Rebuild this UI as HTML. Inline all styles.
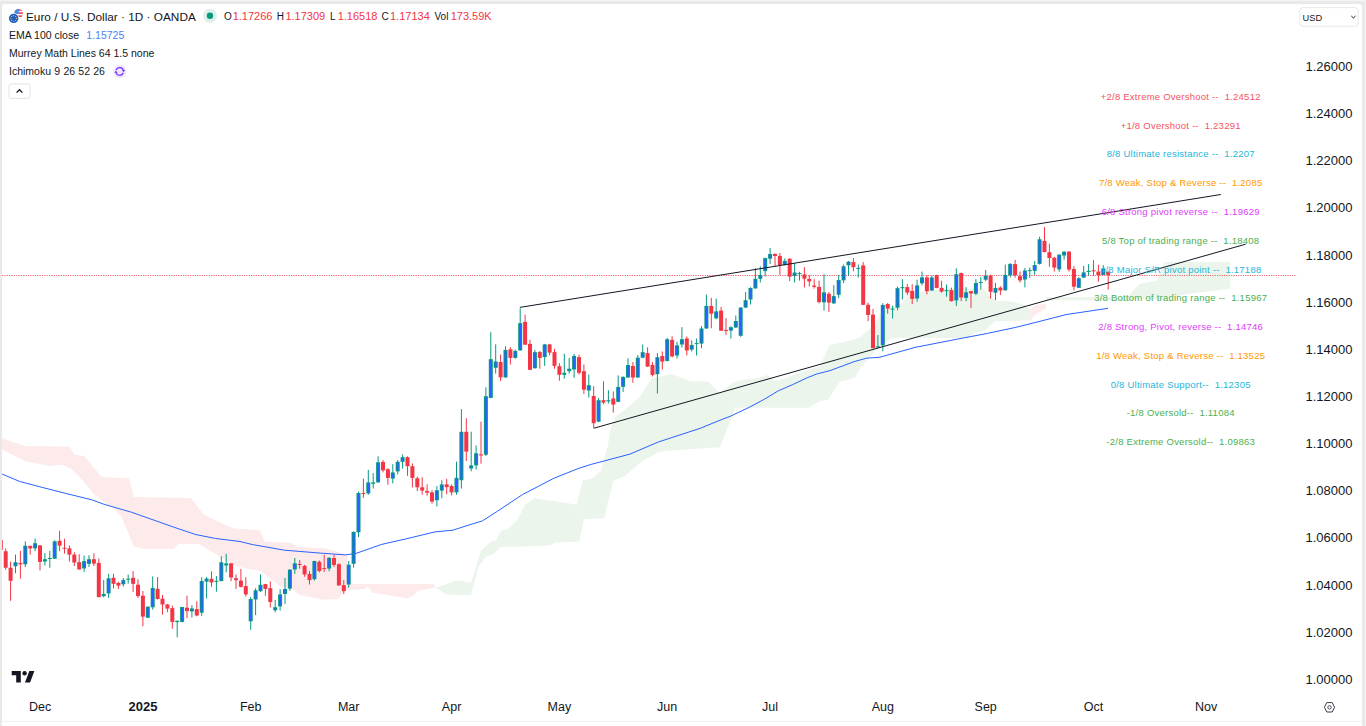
<!DOCTYPE html>
<html><head><meta charset="utf-8"><style>
html,body{margin:0;padding:0;}
body{width:1366px;height:726px;background:#E9E9E9;position:relative;overflow:hidden;font-family:"Liberation Sans",sans-serif;}
#panel{position:absolute;left:2px;top:4px;width:1360px;height:760px;background:#fff;border-radius:3px;}
#t1{position:absolute;left:0;top:0;width:1366px;height:1px;background:#F4F4F4;}
#r1{position:absolute;left:1365px;top:0;width:1px;height:726px;background:#F4F4F4;}
svg{position:absolute;left:0;top:0;}
.mm{font-size:9.5px;letter-spacing:0.24px;}
.ax{font-size:13px;fill:#131722;}
.bold{font-weight:bold;}
.lg{fill:#131722;font-size:10.5px;}
.title{fill:#131722;font-size:11.8px;}
.ohl{fill:#131722;font-size:10px;}
.ohv{font-size:11px;fill:#F23645;}
.mo{font-size:12.5px;fill:#131722;}
.red{fill:#F23645;}
.usd{fill:#131722;font-size:9.3px;}
</style></head><body>
<div id="panel"></div><div id="t1"></div><div id="r1"></div>
<svg width="1366" height="726" viewBox="0 0 1366 726" font-family="Liberation Sans, sans-serif">
<defs><clipPath id="cp"><rect x="2" y="4" width="1295" height="690"/></clipPath></defs>
<rect x="2" y="721" width="1360" height="1" fill="#F1F1F1"/>
<polygon points="2.0,437.4 10.0,441.0 24.8,446.0 69.4,446.8 74.4,454.7 84.3,456.0 101.7,477.0 129.0,478.3 133.9,496.9 191.0,498.0 203.3,514.2 223.0,524.0 234.3,528.4 260.3,530.2 264.8,541.8 291.6,542.7 298.8,547.2 323.9,548.1 347.3,554.4 348.8,584.0 433.7,584.0 435.9,587.8 435.9,587.8 432.3,588.1 417.6,591.0 413.2,596.1 407.4,598.3 372.2,592.5 367.8,586.6 365.0,588.8 348.8,590.3 344.4,590.3 338.6,599.0 324.0,599.8 299.0,594.7 291.7,588.8 280.0,586.6 261.2,571.3 235.6,566.3 215.7,553.9 198.4,544.0 178.5,544.0 173.6,549.0 143.8,549.0 133.9,546.5 121.5,516.7 114.0,509.3 94.2,494.4 84.3,482.0 72.0,469.6 62.0,464.6 49.6,465.9 24.8,461.0 2.0,449.8" fill="#FDEBEC"/>
<polygon points="435.9,587.8 444.6,584.9 453.4,581.3 460.7,580.5 471.0,582.7 481.2,550.5 491.5,541.0 495.9,540.3 501.7,530.0 507.6,529.3 517.8,519.0 525.2,504.4 534.7,498.2 552.6,500.9 576.4,504.4 582.9,480.3 591.2,478.9 600.8,471.3 607.7,446.5 610.4,430.0 615.4,416.2 625.3,409.6 640.2,396.4 651.7,378.2 671.6,373.9 691.4,381.5 707.9,381.5 720.0,393.3 731.6,383.6 737.3,380.7 758.6,377.8 766.3,374.9 775.9,380.7 783.6,378.8 801.0,372.0 820.2,366.3 826.0,352.8 829.9,345.1 839.5,343.1 854.9,339.3 860.0,337.5 871.0,327.6 877.6,318.7 887.6,306.6 901.5,303.7 908.8,293.4 950.0,288.0 983.5,289.0 995.2,300.7 1012.8,301.5 1024.5,305.1 1030.3,309.5 1030.3,309.5 1030.3,320.5 994.4,321.3 985.5,330.3 973.6,333.0 970.2,338.0 892.0,338.0 877.6,348.5 860.0,368.4 854.9,377.8 839.5,381.7 828.0,400.0 820.2,401.0 808.7,407.7 735.4,407.7 727.7,428.0 720.0,447.2 665.0,451.0 658.3,452.6 640.2,462.5 625.6,475.4 613.2,481.0 604.2,518.3 583.7,519.0 579.3,541.7 554.5,542.5 550.1,545.4 520.8,546.6 500.3,546.9 494.4,553.4 485.6,557.1 478.3,567.3 471.0,595.2 446.1,594.4 435.9,587.8" fill="#EBF5EC"/>
<polygon points="1030.3,309.5 1036.0,305.0 1046.0,303.5 1046.0,308.6 1036.0,314.0 1030.3,320.5" fill="#FDEBEC"/>
<polygon points="1046.0,303.5 1046.0,296.9 1128.0,296.9 1139.6,283.7 1157.0,280.7 1164.5,262.0 1230.3,262.0 1230.3,288.8 1186.4,294.0 1160.0,300.5 1142.5,298.3 1128.0,300.5 1046.0,300.5" fill="#EBF5EC"/>
<polyline points="2.0,474.0 19.8,481.5 42.2,487.4 64.5,493.1 91.7,499.8 104.1,504.3 131.4,512.2 173.6,527.1 195.9,534.6 215.7,538.5 240.0,541.5 252.2,544.5 284.5,550.2 320.3,553.1 345.4,554.9 356.1,553.4 381.2,544.5 406.3,538.8 434.9,531.9 452.8,530.2 470.0,524.7 482.4,520.9 497.5,511.2 522.3,494.7 554.0,478.2 578.8,468.3 591.2,464.4 630.0,454.1 658.3,442.0 700.0,428.4 720.0,420.2 730.0,416.4 749.3,407.3 763.8,399.5 778.2,390.9 792.7,384.6 807.1,377.8 816.8,374.0 830.0,370.6 854.9,361.4 866.5,358.2 880.0,357.2 915.0,347.4 960.0,338.6 987.5,333.4 1015.1,327.5 1040.0,321.3 1066.0,314.6 1108.0,308.3" fill="none" stroke="#2962FF" stroke-width="1"/>
<line x1="2" y1="275.5" x2="1297" y2="275.5" stroke="#F2636F" stroke-width="1" stroke-dasharray="1.2 1.15"/>
<g clip-path="url(#cp)"><line x1="0.80" y1="538.0" x2="0.80" y2="551.0" stroke="#F23645" stroke-width="1"/>
<rect x="-1.20" y="540.0" width="4" height="10.0" fill="#F23645"/>
<line x1="5.70" y1="548.4" x2="5.70" y2="569.8" stroke="#F23645" stroke-width="1"/>
<rect x="3.70" y="551.2" width="4" height="16.5" fill="#F23645"/>
<line x1="10.60" y1="561.5" x2="10.60" y2="600.8" stroke="#F23645" stroke-width="1"/>
<rect x="8.60" y="567.7" width="4" height="13.1" fill="#F23645"/>
<line x1="15.50" y1="554.6" x2="15.50" y2="573.2" stroke="#089981" stroke-width="1"/>
<rect x="13.50" y="562.2" width="4" height="4.1" fill="#089981"/>
<rect x="14.50" y="563.2" width="2" height="2.1" fill="#2962FF"/>
<line x1="20.40" y1="550.9" x2="20.40" y2="578.7" stroke="#F23645" stroke-width="1"/>
<rect x="18.40" y="562.9" width="4" height="1.4" fill="#F23645"/>
<line x1="25.30" y1="541.3" x2="25.30" y2="567.0" stroke="#089981" stroke-width="1"/>
<rect x="23.30" y="545.7" width="4" height="18.6" fill="#089981"/>
<rect x="24.30" y="546.7" width="2" height="16.6" fill="#2962FF"/>
<line x1="30.20" y1="545.7" x2="30.20" y2="554.6" stroke="#F23645" stroke-width="1"/>
<rect x="28.20" y="545.9" width="4" height="2.5" fill="#F23645"/>
<line x1="35.10" y1="538.5" x2="35.10" y2="551.2" stroke="#089981" stroke-width="1"/>
<rect x="33.10" y="543.2" width="4" height="5.2" fill="#089981"/>
<rect x="34.10" y="544.2" width="2" height="3.2" fill="#2962FF"/>
<line x1="40.00" y1="545.0" x2="40.00" y2="570.4" stroke="#F23645" stroke-width="1"/>
<rect x="38.00" y="545.4" width="4" height="16.5" fill="#F23645"/>
<line x1="44.90" y1="553.2" x2="44.90" y2="565.6" stroke="#089981" stroke-width="1"/>
<rect x="42.90" y="559.2" width="4" height="2.3" fill="#089981"/>
<rect x="43.90" y="560.2" width="2" height="0.3" fill="#2962FF"/>
<line x1="49.80" y1="550.9" x2="49.80" y2="567.7" stroke="#089981" stroke-width="1"/>
<rect x="47.80" y="558.0" width="4" height="1.0" fill="#089981"/>
<line x1="54.70" y1="540.4" x2="54.70" y2="559.0" stroke="#089981" stroke-width="1"/>
<rect x="52.70" y="541.3" width="4" height="17.4" fill="#089981"/>
<rect x="53.70" y="542.3" width="2" height="15.4" fill="#2962FF"/>
<line x1="59.60" y1="530.8" x2="59.60" y2="551.2" stroke="#F23645" stroke-width="1"/>
<rect x="57.60" y="540.8" width="4" height="4.9" fill="#F23645"/>
<line x1="64.50" y1="538.8" x2="64.50" y2="553.6" stroke="#F23645" stroke-width="1"/>
<rect x="62.50" y="547.7" width="4" height="1.0" fill="#F23645"/>
<line x1="69.40" y1="545.4" x2="69.40" y2="561.5" stroke="#F23645" stroke-width="1"/>
<rect x="67.40" y="548.4" width="4" height="6.2" fill="#F23645"/>
<line x1="74.30" y1="552.3" x2="74.30" y2="566.0" stroke="#F23645" stroke-width="1"/>
<rect x="72.30" y="554.6" width="4" height="7.9" fill="#F23645"/>
<line x1="79.20" y1="554.2" x2="79.20" y2="569.8" stroke="#F23645" stroke-width="1"/>
<rect x="77.20" y="562.2" width="4" height="7.2" fill="#F23645"/>
<line x1="84.10" y1="555.6" x2="84.10" y2="571.8" stroke="#089981" stroke-width="1"/>
<rect x="82.10" y="561.1" width="4" height="7.3" fill="#089981"/>
<rect x="83.10" y="562.1" width="2" height="5.3" fill="#2962FF"/>
<line x1="89.00" y1="555.3" x2="89.00" y2="567.0" stroke="#089981" stroke-width="1"/>
<rect x="87.00" y="559.2" width="4" height="4.6" fill="#089981"/>
<rect x="88.00" y="560.2" width="2" height="2.6" fill="#2962FF"/>
<line x1="93.90" y1="553.2" x2="93.90" y2="566.0" stroke="#F23645" stroke-width="1"/>
<rect x="91.90" y="559.2" width="4" height="4.4" fill="#F23645"/>
<line x1="98.80" y1="558.5" x2="98.80" y2="597.3" stroke="#F23645" stroke-width="1"/>
<rect x="96.80" y="562.9" width="4" height="34.2" fill="#F23645"/>
<line x1="103.70" y1="580.1" x2="103.70" y2="597.3" stroke="#089981" stroke-width="1"/>
<rect x="101.70" y="593.9" width="4" height="2.3" fill="#089981"/>
<rect x="102.70" y="594.9" width="2" height="0.3" fill="#2962FF"/>
<line x1="108.60" y1="573.9" x2="108.60" y2="598.0" stroke="#089981" stroke-width="1"/>
<rect x="106.60" y="578.3" width="4" height="15.2" fill="#089981"/>
<rect x="107.60" y="579.3" width="2" height="13.2" fill="#2962FF"/>
<line x1="113.50" y1="573.9" x2="113.50" y2="588.4" stroke="#F23645" stroke-width="1"/>
<rect x="111.50" y="577.8" width="4" height="6.0" fill="#F23645"/>
<line x1="118.40" y1="581.9" x2="118.40" y2="588.8" stroke="#F23645" stroke-width="1"/>
<rect x="116.40" y="582.9" width="4" height="2.7" fill="#F23645"/>
<line x1="123.30" y1="578.0" x2="123.30" y2="586.6" stroke="#089981" stroke-width="1"/>
<rect x="121.30" y="580.1" width="4" height="4.2" fill="#089981"/>
<rect x="122.30" y="581.1" width="2" height="2.2" fill="#2962FF"/>
<line x1="128.20" y1="574.6" x2="128.20" y2="583.6" stroke="#089981" stroke-width="1"/>
<rect x="126.20" y="578.7" width="4" height="1.0" fill="#089981"/>
<line x1="133.10" y1="571.2" x2="133.10" y2="591.8" stroke="#F23645" stroke-width="1"/>
<rect x="131.10" y="577.8" width="4" height="6.0" fill="#F23645"/>
<line x1="138.00" y1="579.2" x2="138.00" y2="598.0" stroke="#F23645" stroke-width="1"/>
<rect x="136.00" y="584.7" width="4" height="11.3" fill="#F23645"/>
<line x1="142.90" y1="591.1" x2="142.90" y2="626.3" stroke="#F23645" stroke-width="1"/>
<rect x="140.90" y="595.7" width="4" height="20.9" fill="#F23645"/>
<line x1="147.80" y1="606.3" x2="147.80" y2="618.0" stroke="#089981" stroke-width="1"/>
<rect x="145.80" y="606.7" width="4" height="11.0" fill="#089981"/>
<rect x="146.80" y="607.7" width="2" height="9.0" fill="#2962FF"/>
<line x1="152.70" y1="576.4" x2="152.70" y2="609.7" stroke="#089981" stroke-width="1"/>
<rect x="150.70" y="588.0" width="4" height="19.3" fill="#089981"/>
<rect x="151.70" y="589.0" width="2" height="17.3" fill="#2962FF"/>
<line x1="157.60" y1="577.0" x2="157.60" y2="599.5" stroke="#F23645" stroke-width="1"/>
<rect x="155.60" y="588.8" width="4" height="10.2" fill="#F23645"/>
<line x1="162.50" y1="594.9" x2="162.50" y2="614.6" stroke="#F23645" stroke-width="1"/>
<rect x="160.50" y="598.7" width="4" height="5.8" fill="#F23645"/>
<line x1="167.40" y1="604.0" x2="167.40" y2="612.2" stroke="#F23645" stroke-width="1"/>
<rect x="165.40" y="604.5" width="4" height="4.1" fill="#F23645"/>
<line x1="172.30" y1="605.6" x2="172.30" y2="628.7" stroke="#F23645" stroke-width="1"/>
<rect x="170.30" y="608.1" width="4" height="13.8" fill="#F23645"/>
<line x1="177.20" y1="620.5" x2="177.20" y2="637.3" stroke="#089981" stroke-width="1"/>
<rect x="175.20" y="620.8" width="4" height="1.3" fill="#089981"/>
<line x1="182.10" y1="607.0" x2="182.10" y2="622.5" stroke="#089981" stroke-width="1"/>
<rect x="180.10" y="607.0" width="4" height="14.9" fill="#089981"/>
<rect x="181.10" y="608.0" width="2" height="12.9" fill="#2962FF"/>
<line x1="187.00" y1="595.7" x2="187.00" y2="618.0" stroke="#F23645" stroke-width="1"/>
<rect x="185.00" y="607.7" width="4" height="3.4" fill="#F23645"/>
<line x1="191.90" y1="605.3" x2="191.90" y2="617.5" stroke="#089981" stroke-width="1"/>
<rect x="189.90" y="608.4" width="4" height="3.0" fill="#089981"/>
<rect x="190.90" y="609.4" width="2" height="1.0" fill="#2962FF"/>
<line x1="196.80" y1="601.3" x2="196.80" y2="616.4" stroke="#F23645" stroke-width="1"/>
<rect x="194.80" y="609.1" width="4" height="6.4" fill="#F23645"/>
<line x1="201.70" y1="577.2" x2="201.70" y2="615.8" stroke="#089981" stroke-width="1"/>
<rect x="199.70" y="581.0" width="4" height="31.7" fill="#089981"/>
<rect x="200.70" y="582.0" width="2" height="29.7" fill="#2962FF"/>
<line x1="206.60" y1="576.9" x2="206.60" y2="598.5" stroke="#089981" stroke-width="1"/>
<rect x="204.60" y="578.6" width="4" height="3.0" fill="#089981"/>
<rect x="205.60" y="579.6" width="2" height="1.0" fill="#2962FF"/>
<line x1="211.50" y1="571.4" x2="211.50" y2="586.8" stroke="#F23645" stroke-width="1"/>
<rect x="209.50" y="578.8" width="4" height="3.6" fill="#F23645"/>
<line x1="216.40" y1="576.1" x2="216.40" y2="591.7" stroke="#089981" stroke-width="1"/>
<rect x="214.40" y="580.8" width="4" height="1.0" fill="#089981"/>
<line x1="221.30" y1="556.3" x2="221.30" y2="581.5" stroke="#089981" stroke-width="1"/>
<rect x="219.30" y="562.3" width="4" height="18.7" fill="#089981"/>
<rect x="220.30" y="563.3" width="2" height="16.7" fill="#2962FF"/>
<line x1="226.20" y1="553.8" x2="226.20" y2="572.4" stroke="#089981" stroke-width="1"/>
<rect x="224.20" y="563.4" width="4" height="2.1" fill="#089981"/>
<rect x="225.20" y="564.4" width="2" height="0.1" fill="#2962FF"/>
<line x1="231.10" y1="563.1" x2="231.10" y2="581.3" stroke="#F23645" stroke-width="1"/>
<rect x="229.10" y="563.3" width="4" height="14.2" fill="#F23645"/>
<line x1="236.00" y1="574.4" x2="236.00" y2="588.9" stroke="#F23645" stroke-width="1"/>
<rect x="234.00" y="578.3" width="4" height="1.9" fill="#F23645"/>
<line x1="240.90" y1="568.9" x2="240.90" y2="587.5" stroke="#F23645" stroke-width="1"/>
<rect x="238.90" y="580.6" width="4" height="6.2" fill="#F23645"/>
<line x1="245.80" y1="577.2" x2="245.80" y2="596.5" stroke="#F23645" stroke-width="1"/>
<rect x="243.80" y="586.1" width="4" height="8.3" fill="#F23645"/>
<line x1="250.70" y1="597.2" x2="250.70" y2="629.8" stroke="#089981" stroke-width="1"/>
<rect x="248.70" y="599.0" width="4" height="22.3" fill="#089981"/>
<rect x="249.70" y="600.0" width="2" height="20.3" fill="#2962FF"/>
<line x1="255.60" y1="588.2" x2="255.60" y2="615.1" stroke="#089981" stroke-width="1"/>
<rect x="253.60" y="590.3" width="4" height="9.2" fill="#089981"/>
<rect x="254.60" y="591.3" width="2" height="7.2" fill="#2962FF"/>
<line x1="260.50" y1="574.4" x2="260.50" y2="591.8" stroke="#089981" stroke-width="1"/>
<rect x="258.50" y="584.8" width="4" height="6.4" fill="#089981"/>
<rect x="259.50" y="585.8" width="2" height="4.4" fill="#2962FF"/>
<line x1="265.40" y1="583.8" x2="265.40" y2="595.8" stroke="#F23645" stroke-width="1"/>
<rect x="263.40" y="584.1" width="4" height="4.8" fill="#F23645"/>
<line x1="270.30" y1="581.3" x2="270.30" y2="607.5" stroke="#F23645" stroke-width="1"/>
<rect x="268.30" y="588.2" width="4" height="13.8" fill="#F23645"/>
<line x1="275.20" y1="599.9" x2="275.20" y2="612.3" stroke="#089981" stroke-width="1"/>
<rect x="273.20" y="607.2" width="4" height="3.0" fill="#089981"/>
<rect x="274.20" y="608.2" width="2" height="1.0" fill="#2962FF"/>
<line x1="280.10" y1="589.3" x2="280.10" y2="610.5" stroke="#089981" stroke-width="1"/>
<rect x="278.10" y="594.4" width="4" height="12.0" fill="#089981"/>
<rect x="279.10" y="595.4" width="2" height="10.0" fill="#2962FF"/>
<line x1="285.00" y1="577.9" x2="285.00" y2="604.0" stroke="#089981" stroke-width="1"/>
<rect x="283.00" y="588.9" width="4" height="5.1" fill="#089981"/>
<rect x="284.00" y="589.9" width="2" height="3.1" fill="#2962FF"/>
<line x1="289.90" y1="569.0" x2="289.90" y2="590.9" stroke="#089981" stroke-width="1"/>
<rect x="287.90" y="569.7" width="4" height="18.9" fill="#089981"/>
<rect x="288.90" y="570.7" width="2" height="16.9" fill="#2962FF"/>
<line x1="294.80" y1="558.0" x2="294.80" y2="573.9" stroke="#089981" stroke-width="1"/>
<rect x="292.80" y="563.3" width="4" height="6.2" fill="#089981"/>
<rect x="293.80" y="564.3" width="2" height="4.2" fill="#2962FF"/>
<line x1="299.70" y1="560.1" x2="299.70" y2="568.8" stroke="#F23645" stroke-width="1"/>
<rect x="297.70" y="564.0" width="4" height="1.0" fill="#F23645"/>
<line x1="304.60" y1="564.9" x2="304.60" y2="576.8" stroke="#F23645" stroke-width="1"/>
<rect x="302.60" y="565.9" width="4" height="8.5" fill="#F23645"/>
<line x1="309.50" y1="571.0" x2="309.50" y2="584.5" stroke="#F23645" stroke-width="1"/>
<rect x="307.50" y="573.9" width="4" height="6.2" fill="#F23645"/>
<line x1="314.40" y1="560.7" x2="314.40" y2="580.6" stroke="#089981" stroke-width="1"/>
<rect x="312.40" y="561.0" width="4" height="18.2" fill="#089981"/>
<rect x="313.40" y="562.0" width="2" height="16.2" fill="#2962FF"/>
<line x1="319.30" y1="560.4" x2="319.30" y2="572.4" stroke="#F23645" stroke-width="1"/>
<rect x="317.30" y="561.8" width="4" height="9.2" fill="#F23645"/>
<line x1="324.20" y1="554.9" x2="324.20" y2="572.0" stroke="#F23645" stroke-width="1"/>
<rect x="322.20" y="568.1" width="4" height="1.0" fill="#F23645"/>
<line x1="329.10" y1="557.2" x2="329.10" y2="571.3" stroke="#089981" stroke-width="1"/>
<rect x="327.10" y="557.8" width="4" height="10.8" fill="#089981"/>
<rect x="328.10" y="558.8" width="2" height="8.8" fill="#2962FF"/>
<line x1="334.00" y1="554.9" x2="334.00" y2="567.1" stroke="#F23645" stroke-width="1"/>
<rect x="332.00" y="558.0" width="4" height="6.9" fill="#F23645"/>
<line x1="338.90" y1="563.3" x2="338.90" y2="585.8" stroke="#F23645" stroke-width="1"/>
<rect x="336.90" y="564.2" width="4" height="21.2" fill="#F23645"/>
<line x1="343.80" y1="580.1" x2="343.80" y2="594.1" stroke="#F23645" stroke-width="1"/>
<rect x="341.80" y="585.2" width="4" height="6.0" fill="#F23645"/>
<line x1="348.70" y1="561.0" x2="348.70" y2="587.7" stroke="#089981" stroke-width="1"/>
<rect x="346.70" y="564.7" width="4" height="19.8" fill="#089981"/>
<rect x="347.70" y="565.7" width="2" height="17.8" fill="#2962FF"/>
<line x1="353.60" y1="531.4" x2="353.60" y2="567.6" stroke="#089981" stroke-width="1"/>
<rect x="351.60" y="531.9" width="4" height="31.9" fill="#089981"/>
<rect x="352.60" y="532.9" width="2" height="29.9" fill="#2962FF"/>
<line x1="358.50" y1="491.7" x2="358.50" y2="537.1" stroke="#089981" stroke-width="1"/>
<rect x="356.50" y="493.0" width="4" height="39.3" fill="#089981"/>
<rect x="357.50" y="494.0" width="2" height="37.3" fill="#2962FF"/>
<line x1="363.40" y1="478.6" x2="363.40" y2="497.9" stroke="#F23645" stroke-width="1"/>
<rect x="361.40" y="493.0" width="4" height="1.0" fill="#F23645"/>
<line x1="368.30" y1="470.0" x2="368.30" y2="494.8" stroke="#089981" stroke-width="1"/>
<rect x="366.30" y="482.4" width="4" height="11.0" fill="#089981"/>
<rect x="367.30" y="483.4" width="2" height="9.0" fill="#2962FF"/>
<line x1="373.20" y1="473.1" x2="373.20" y2="488.5" stroke="#089981" stroke-width="1"/>
<rect x="371.20" y="482.4" width="4" height="1.4" fill="#089981"/>
<line x1="378.10" y1="456.3" x2="378.10" y2="482.8" stroke="#089981" stroke-width="1"/>
<rect x="376.10" y="462.3" width="4" height="20.1" fill="#089981"/>
<rect x="377.10" y="463.3" width="2" height="18.1" fill="#2962FF"/>
<line x1="383.00" y1="460.0" x2="383.00" y2="472.4" stroke="#F23645" stroke-width="1"/>
<rect x="381.00" y="462.0" width="4" height="8.3" fill="#F23645"/>
<line x1="387.90" y1="468.2" x2="387.90" y2="484.8" stroke="#F23645" stroke-width="1"/>
<rect x="385.90" y="469.2" width="4" height="8.7" fill="#F23645"/>
<line x1="392.80" y1="464.1" x2="392.80" y2="483.4" stroke="#089981" stroke-width="1"/>
<rect x="390.80" y="472.4" width="4" height="6.2" fill="#089981"/>
<rect x="391.80" y="473.4" width="2" height="4.2" fill="#2962FF"/>
<line x1="397.70" y1="460.0" x2="397.70" y2="474.4" stroke="#089981" stroke-width="1"/>
<rect x="395.70" y="461.8" width="4" height="9.6" fill="#089981"/>
<rect x="396.70" y="462.8" width="2" height="7.6" fill="#2962FF"/>
<line x1="402.60" y1="454.5" x2="402.60" y2="468.6" stroke="#089981" stroke-width="1"/>
<rect x="400.60" y="457.2" width="4" height="4.6" fill="#089981"/>
<rect x="401.60" y="458.2" width="2" height="2.6" fill="#2962FF"/>
<line x1="407.50" y1="456.3" x2="407.50" y2="475.8" stroke="#F23645" stroke-width="1"/>
<rect x="405.50" y="457.2" width="4" height="9.0" fill="#F23645"/>
<line x1="412.40" y1="463.4" x2="412.40" y2="487.5" stroke="#F23645" stroke-width="1"/>
<rect x="410.40" y="466.2" width="4" height="11.7" fill="#F23645"/>
<line x1="417.30" y1="476.5" x2="417.30" y2="491.0" stroke="#F23645" stroke-width="1"/>
<rect x="415.30" y="478.3" width="4" height="9.0" fill="#F23645"/>
<line x1="422.20" y1="477.2" x2="422.20" y2="494.7" stroke="#F23645" stroke-width="1"/>
<rect x="420.20" y="487.3" width="4" height="3.3" fill="#F23645"/>
<line x1="427.10" y1="484.4" x2="427.10" y2="495.7" stroke="#F23645" stroke-width="1"/>
<rect x="425.10" y="491.0" width="4" height="1.6" fill="#F23645"/>
<line x1="432.00" y1="490.2" x2="432.00" y2="503.7" stroke="#F23645" stroke-width="1"/>
<rect x="430.00" y="492.4" width="4" height="9.2" fill="#F23645"/>
<line x1="436.90" y1="486.0" x2="436.90" y2="506.4" stroke="#089981" stroke-width="1"/>
<rect x="434.90" y="490.2" width="4" height="10.0" fill="#089981"/>
<rect x="435.90" y="491.2" width="2" height="8.0" fill="#2962FF"/>
<line x1="441.80" y1="480.2" x2="441.80" y2="498.2" stroke="#089981" stroke-width="1"/>
<rect x="439.80" y="484.4" width="4" height="6.2" fill="#089981"/>
<rect x="440.80" y="485.4" width="2" height="4.2" fill="#2962FF"/>
<line x1="446.70" y1="478.9" x2="446.70" y2="494.3" stroke="#F23645" stroke-width="1"/>
<rect x="444.70" y="484.4" width="4" height="2.7" fill="#F23645"/>
<line x1="451.60" y1="484.4" x2="451.60" y2="495.4" stroke="#F23645" stroke-width="1"/>
<rect x="449.60" y="486.0" width="4" height="6.4" fill="#F23645"/>
<line x1="456.50" y1="461.7" x2="456.50" y2="494.7" stroke="#089981" stroke-width="1"/>
<rect x="454.50" y="477.8" width="4" height="14.6" fill="#089981"/>
<rect x="455.50" y="478.8" width="2" height="12.6" fill="#2962FF"/>
<line x1="461.40" y1="409.1" x2="461.40" y2="488.5" stroke="#089981" stroke-width="1"/>
<rect x="459.40" y="431.8" width="4" height="48.4" fill="#089981"/>
<rect x="460.40" y="432.8" width="2" height="46.4" fill="#2962FF"/>
<line x1="466.30" y1="418.2" x2="466.30" y2="461.0" stroke="#F23645" stroke-width="1"/>
<rect x="464.30" y="431.8" width="4" height="19.8" fill="#F23645"/>
<line x1="471.20" y1="431.7" x2="471.20" y2="471.3" stroke="#089981" stroke-width="1"/>
<rect x="469.20" y="465.4" width="4" height="3.1" fill="#089981"/>
<rect x="470.20" y="466.4" width="2" height="1.1" fill="#2962FF"/>
<line x1="476.10" y1="445.5" x2="476.10" y2="469.5" stroke="#089981" stroke-width="1"/>
<rect x="474.10" y="453.3" width="4" height="12.1" fill="#089981"/>
<rect x="475.10" y="454.3" width="2" height="10.1" fill="#2962FF"/>
<line x1="481.00" y1="421.7" x2="481.00" y2="463.7" stroke="#F23645" stroke-width="1"/>
<rect x="479.00" y="454.3" width="4" height="1.1" fill="#F23645"/>
<line x1="485.90" y1="387.2" x2="485.90" y2="456.1" stroke="#089981" stroke-width="1"/>
<rect x="483.90" y="396.2" width="4" height="58.5" fill="#089981"/>
<rect x="484.90" y="397.2" width="2" height="56.5" fill="#2962FF"/>
<line x1="490.80" y1="332.2" x2="490.80" y2="398.2" stroke="#089981" stroke-width="1"/>
<rect x="488.80" y="359.2" width="4" height="38.7" fill="#089981"/>
<rect x="489.80" y="360.2" width="2" height="36.7" fill="#2962FF"/>
<line x1="495.70" y1="344.3" x2="495.70" y2="373.6" stroke="#089981" stroke-width="1"/>
<rect x="493.70" y="361.5" width="4" height="6.3" fill="#089981"/>
<rect x="494.70" y="362.5" width="2" height="4.3" fill="#2962FF"/>
<line x1="500.60" y1="354.5" x2="500.60" y2="381.0" stroke="#F23645" stroke-width="1"/>
<rect x="498.60" y="362.0" width="4" height="15.4" fill="#F23645"/>
<line x1="505.50" y1="346.3" x2="505.50" y2="377.8" stroke="#089981" stroke-width="1"/>
<rect x="503.50" y="349.9" width="4" height="27.5" fill="#089981"/>
<rect x="504.50" y="350.9" width="2" height="25.5" fill="#2962FF"/>
<line x1="510.40" y1="347.1" x2="510.40" y2="364.5" stroke="#F23645" stroke-width="1"/>
<rect x="508.40" y="349.3" width="4" height="8.6" fill="#F23645"/>
<line x1="515.30" y1="349.6" x2="515.30" y2="358.7" stroke="#089981" stroke-width="1"/>
<rect x="513.30" y="350.9" width="4" height="7.0" fill="#089981"/>
<rect x="514.30" y="351.9" width="2" height="5.0" fill="#2962FF"/>
<line x1="520.20" y1="308.3" x2="520.20" y2="350.8" stroke="#089981" stroke-width="1"/>
<rect x="518.20" y="323.1" width="4" height="27.3" fill="#089981"/>
<rect x="519.20" y="324.1" width="2" height="25.3" fill="#2962FF"/>
<line x1="525.10" y1="314.6" x2="525.10" y2="345.0" stroke="#F23645" stroke-width="1"/>
<rect x="523.10" y="321.9" width="4" height="22.8" fill="#F23645"/>
<line x1="530.00" y1="339.8" x2="530.00" y2="370.2" stroke="#F23645" stroke-width="1"/>
<rect x="528.00" y="343.9" width="4" height="25.9" fill="#F23645"/>
<line x1="534.90" y1="350.0" x2="534.90" y2="368.7" stroke="#089981" stroke-width="1"/>
<rect x="532.90" y="352.1" width="4" height="16.1" fill="#089981"/>
<rect x="533.90" y="353.1" width="2" height="14.1" fill="#2962FF"/>
<line x1="539.80" y1="351.0" x2="539.80" y2="368.7" stroke="#F23645" stroke-width="1"/>
<rect x="537.80" y="352.1" width="4" height="5.8" fill="#F23645"/>
<line x1="544.70" y1="343.9" x2="544.70" y2="365.9" stroke="#089981" stroke-width="1"/>
<rect x="542.70" y="344.4" width="4" height="12.7" fill="#089981"/>
<rect x="543.70" y="345.4" width="2" height="10.7" fill="#2962FF"/>
<line x1="549.60" y1="343.9" x2="549.60" y2="355.5" stroke="#F23645" stroke-width="1"/>
<rect x="547.60" y="344.4" width="4" height="8.2" fill="#F23645"/>
<line x1="554.50" y1="348.8" x2="554.50" y2="368.7" stroke="#F23645" stroke-width="1"/>
<rect x="552.50" y="352.1" width="4" height="13.8" fill="#F23645"/>
<line x1="559.40" y1="363.2" x2="559.40" y2="380.7" stroke="#F23645" stroke-width="1"/>
<rect x="557.40" y="366.2" width="4" height="8.6" fill="#F23645"/>
<line x1="564.30" y1="353.8" x2="564.30" y2="378.6" stroke="#089981" stroke-width="1"/>
<rect x="562.30" y="372.8" width="4" height="2.0" fill="#089981"/>
<line x1="569.20" y1="357.9" x2="569.20" y2="373.6" stroke="#089981" stroke-width="1"/>
<rect x="567.20" y="368.7" width="4" height="2.5" fill="#089981"/>
<rect x="568.20" y="369.7" width="2" height="0.5" fill="#2962FF"/>
<line x1="574.10" y1="353.8" x2="574.10" y2="377.8" stroke="#089981" stroke-width="1"/>
<rect x="572.10" y="356.0" width="4" height="13.5" fill="#089981"/>
<rect x="573.10" y="357.0" width="2" height="11.5" fill="#2962FF"/>
<line x1="579.00" y1="354.6" x2="579.00" y2="374.8" stroke="#F23645" stroke-width="1"/>
<rect x="577.00" y="357.1" width="4" height="15.7" fill="#F23645"/>
<line x1="583.90" y1="364.5" x2="583.90" y2="394.0" stroke="#F23645" stroke-width="1"/>
<rect x="581.90" y="371.2" width="4" height="18.5" fill="#F23645"/>
<line x1="588.80" y1="374.5" x2="588.80" y2="397.6" stroke="#089981" stroke-width="1"/>
<rect x="586.80" y="385.2" width="4" height="5.3" fill="#089981"/>
<rect x="587.80" y="386.2" width="2" height="3.3" fill="#2962FF"/>
<line x1="593.70" y1="386.1" x2="593.70" y2="428.3" stroke="#F23645" stroke-width="1"/>
<rect x="591.70" y="396.0" width="4" height="27.2" fill="#F23645"/>
<line x1="598.60" y1="397.7" x2="598.60" y2="422.2" stroke="#089981" stroke-width="1"/>
<rect x="596.60" y="400.2" width="4" height="21.5" fill="#089981"/>
<rect x="597.60" y="401.2" width="2" height="19.5" fill="#2962FF"/>
<line x1="603.50" y1="381.2" x2="603.50" y2="404.3" stroke="#F23645" stroke-width="1"/>
<rect x="601.50" y="400.2" width="4" height="2.4" fill="#F23645"/>
<line x1="608.40" y1="390.2" x2="608.40" y2="403.5" stroke="#089981" stroke-width="1"/>
<rect x="606.40" y="400.2" width="4" height="1.1" fill="#089981"/>
<line x1="613.30" y1="391.4" x2="613.30" y2="412.6" stroke="#F23645" stroke-width="1"/>
<rect x="611.30" y="398.5" width="4" height="6.1" fill="#F23645"/>
<line x1="618.20" y1="375.4" x2="618.20" y2="402.2" stroke="#089981" stroke-width="1"/>
<rect x="616.20" y="386.9" width="4" height="14.9" fill="#089981"/>
<rect x="617.20" y="387.9" width="2" height="12.9" fill="#2962FF"/>
<line x1="623.10" y1="376.2" x2="623.10" y2="391.9" stroke="#089981" stroke-width="1"/>
<rect x="621.10" y="377.0" width="4" height="9.9" fill="#089981"/>
<rect x="622.10" y="378.0" width="2" height="7.9" fill="#2962FF"/>
<line x1="628.00" y1="358.3" x2="628.00" y2="377.9" stroke="#089981" stroke-width="1"/>
<rect x="626.00" y="365.0" width="4" height="12.5" fill="#089981"/>
<rect x="627.00" y="366.0" width="2" height="10.5" fill="#2962FF"/>
<line x1="632.90" y1="362.1" x2="632.90" y2="382.8" stroke="#F23645" stroke-width="1"/>
<rect x="630.90" y="366.0" width="4" height="11.5" fill="#F23645"/>
<line x1="637.80" y1="355.0" x2="637.80" y2="377.9" stroke="#089981" stroke-width="1"/>
<rect x="635.80" y="357.7" width="4" height="19.8" fill="#089981"/>
<rect x="636.80" y="358.7" width="2" height="17.8" fill="#2962FF"/>
<line x1="642.70" y1="344.5" x2="642.70" y2="358.1" stroke="#089981" stroke-width="1"/>
<rect x="640.70" y="352.2" width="4" height="5.5" fill="#089981"/>
<rect x="641.70" y="353.2" width="2" height="3.5" fill="#2962FF"/>
<line x1="647.60" y1="347.3" x2="647.60" y2="367.0" stroke="#F23645" stroke-width="1"/>
<rect x="645.60" y="353.1" width="4" height="13.5" fill="#F23645"/>
<line x1="652.50" y1="362.1" x2="652.50" y2="376.5" stroke="#F23645" stroke-width="1"/>
<rect x="650.50" y="365.0" width="4" height="9.9" fill="#F23645"/>
<line x1="657.40" y1="353.1" x2="657.40" y2="393.6" stroke="#089981" stroke-width="1"/>
<rect x="655.40" y="357.2" width="4" height="17.0" fill="#089981"/>
<rect x="656.40" y="358.2" width="2" height="15.0" fill="#2962FF"/>
<line x1="662.30" y1="351.4" x2="662.30" y2="369.6" stroke="#F23645" stroke-width="1"/>
<rect x="660.30" y="356.0" width="4" height="5.6" fill="#F23645"/>
<line x1="667.20" y1="337.9" x2="667.20" y2="361.4" stroke="#089981" stroke-width="1"/>
<rect x="665.20" y="339.2" width="4" height="21.8" fill="#089981"/>
<rect x="666.20" y="340.2" width="2" height="19.8" fill="#2962FF"/>
<line x1="672.10" y1="336.2" x2="672.10" y2="357.4" stroke="#F23645" stroke-width="1"/>
<rect x="670.10" y="339.9" width="4" height="16.5" fill="#F23645"/>
<line x1="677.00" y1="341.7" x2="677.00" y2="358.5" stroke="#089981" stroke-width="1"/>
<rect x="675.00" y="345.4" width="4" height="10.1" fill="#089981"/>
<rect x="676.00" y="346.4" width="2" height="8.1" fill="#2962FF"/>
<line x1="681.90" y1="327.1" x2="681.90" y2="347.5" stroke="#089981" stroke-width="1"/>
<rect x="679.90" y="339.2" width="4" height="5.3" fill="#089981"/>
<rect x="680.90" y="340.2" width="2" height="3.3" fill="#2962FF"/>
<line x1="686.80" y1="336.5" x2="686.80" y2="355.5" stroke="#F23645" stroke-width="1"/>
<rect x="684.80" y="338.5" width="4" height="12.0" fill="#F23645"/>
<line x1="691.70" y1="340.3" x2="691.70" y2="351.6" stroke="#089981" stroke-width="1"/>
<rect x="689.70" y="345.0" width="4" height="4.6" fill="#089981"/>
<rect x="690.70" y="346.0" width="2" height="2.6" fill="#2962FF"/>
<line x1="696.60" y1="338.5" x2="696.60" y2="355.5" stroke="#089981" stroke-width="1"/>
<rect x="694.60" y="343.1" width="4" height="1.0" fill="#089981"/>
<line x1="701.50" y1="326.1" x2="701.50" y2="348.2" stroke="#089981" stroke-width="1"/>
<rect x="699.50" y="328.5" width="4" height="15.1" fill="#089981"/>
<rect x="700.50" y="329.5" width="2" height="13.1" fill="#2962FF"/>
<line x1="706.40" y1="294.5" x2="706.40" y2="328.9" stroke="#089981" stroke-width="1"/>
<rect x="704.40" y="305.9" width="4" height="22.6" fill="#089981"/>
<rect x="705.40" y="306.9" width="2" height="20.6" fill="#2962FF"/>
<line x1="711.30" y1="297.9" x2="711.30" y2="328.2" stroke="#F23645" stroke-width="1"/>
<rect x="709.30" y="305.9" width="4" height="7.8" fill="#F23645"/>
<line x1="716.20" y1="298.6" x2="716.20" y2="319.3" stroke="#089981" stroke-width="1"/>
<rect x="714.20" y="311.4" width="4" height="6.9" fill="#089981"/>
<rect x="715.20" y="312.4" width="2" height="4.9" fill="#2962FF"/>
<line x1="721.10" y1="306.9" x2="721.10" y2="331.0" stroke="#F23645" stroke-width="1"/>
<rect x="719.10" y="310.6" width="4" height="20.1" fill="#F23645"/>
<line x1="726.00" y1="318.2" x2="726.00" y2="335.1" stroke="#F23645" stroke-width="1"/>
<rect x="724.00" y="329.9" width="4" height="1.0" fill="#F23645"/>
<line x1="730.90" y1="326.2" x2="730.90" y2="338.6" stroke="#089981" stroke-width="1"/>
<rect x="728.90" y="327.2" width="4" height="3.4" fill="#089981"/>
<rect x="729.90" y="328.2" width="2" height="1.4" fill="#2962FF"/>
<line x1="735.80" y1="315.5" x2="735.80" y2="327.9" stroke="#089981" stroke-width="1"/>
<rect x="733.80" y="321.0" width="4" height="6.5" fill="#089981"/>
<rect x="734.80" y="322.0" width="2" height="4.5" fill="#2962FF"/>
<line x1="740.70" y1="307.1" x2="740.70" y2="336.8" stroke="#089981" stroke-width="1"/>
<rect x="738.70" y="307.6" width="4" height="28.2" fill="#089981"/>
<rect x="739.70" y="308.6" width="2" height="26.2" fill="#2962FF"/>
<line x1="745.60" y1="292.1" x2="745.60" y2="307.9" stroke="#089981" stroke-width="1"/>
<rect x="743.60" y="300.2" width="4" height="7.4" fill="#089981"/>
<rect x="744.60" y="301.2" width="2" height="5.4" fill="#2962FF"/>
<line x1="750.50" y1="287.3" x2="750.50" y2="304.5" stroke="#089981" stroke-width="1"/>
<rect x="748.50" y="288.0" width="4" height="11.5" fill="#089981"/>
<rect x="749.50" y="289.0" width="2" height="9.5" fill="#2962FF"/>
<line x1="755.40" y1="268.1" x2="755.40" y2="288.8" stroke="#089981" stroke-width="1"/>
<rect x="753.40" y="278.8" width="4" height="9.6" fill="#089981"/>
<rect x="754.40" y="279.8" width="2" height="7.6" fill="#2962FF"/>
<line x1="760.30" y1="266.4" x2="760.30" y2="282.5" stroke="#089981" stroke-width="1"/>
<rect x="758.30" y="275.0" width="4" height="3.8" fill="#089981"/>
<rect x="759.30" y="276.0" width="2" height="1.8" fill="#2962FF"/>
<line x1="765.20" y1="257.7" x2="765.20" y2="276.3" stroke="#089981" stroke-width="1"/>
<rect x="763.20" y="258.1" width="4" height="13.0" fill="#089981"/>
<rect x="764.20" y="259.1" width="2" height="11.0" fill="#2962FF"/>
<line x1="770.10" y1="248.1" x2="770.10" y2="263.9" stroke="#089981" stroke-width="1"/>
<rect x="768.10" y="254.0" width="4" height="4.7" fill="#089981"/>
<rect x="769.10" y="255.0" width="2" height="2.7" fill="#2962FF"/>
<line x1="775.00" y1="253.2" x2="775.00" y2="266.0" stroke="#F23645" stroke-width="1"/>
<rect x="773.00" y="254.0" width="4" height="2.0" fill="#F23645"/>
<line x1="779.90" y1="252.9" x2="779.90" y2="274.9" stroke="#F23645" stroke-width="1"/>
<rect x="777.90" y="255.9" width="4" height="9.1" fill="#F23645"/>
<line x1="784.80" y1="258.4" x2="784.80" y2="265.4" stroke="#089981" stroke-width="1"/>
<rect x="782.80" y="260.9" width="4" height="4.1" fill="#089981"/>
<rect x="783.80" y="261.9" width="2" height="2.1" fill="#2962FF"/>
<line x1="789.70" y1="258.4" x2="789.70" y2="281.1" stroke="#F23645" stroke-width="1"/>
<rect x="787.70" y="258.7" width="4" height="17.9" fill="#F23645"/>
<line x1="794.60" y1="263.2" x2="794.60" y2="282.5" stroke="#089981" stroke-width="1"/>
<rect x="792.60" y="272.5" width="4" height="3.5" fill="#089981"/>
<rect x="793.60" y="273.5" width="2" height="1.5" fill="#2962FF"/>
<line x1="799.50" y1="271.8" x2="799.50" y2="280.6" stroke="#089981" stroke-width="1"/>
<rect x="797.50" y="273.1" width="4" height="1.0" fill="#089981"/>
<line x1="804.40" y1="267.2" x2="804.40" y2="287.5" stroke="#F23645" stroke-width="1"/>
<rect x="802.40" y="274.5" width="4" height="4.2" fill="#F23645"/>
<line x1="809.30" y1="275.1" x2="809.30" y2="286.5" stroke="#F23645" stroke-width="1"/>
<rect x="807.30" y="278.9" width="4" height="2.5" fill="#F23645"/>
<line x1="814.20" y1="279.2" x2="814.20" y2="288.6" stroke="#F23645" stroke-width="1"/>
<rect x="812.20" y="285.5" width="4" height="1.4" fill="#F23645"/>
<line x1="819.10" y1="280.6" x2="819.10" y2="303.4" stroke="#F23645" stroke-width="1"/>
<rect x="817.10" y="286.9" width="4" height="15.2" fill="#F23645"/>
<line x1="824.00" y1="274.1" x2="824.00" y2="310.6" stroke="#089981" stroke-width="1"/>
<rect x="822.00" y="292.4" width="4" height="9.9" fill="#089981"/>
<rect x="823.00" y="293.4" width="2" height="7.9" fill="#2962FF"/>
<line x1="828.90" y1="292.0" x2="828.90" y2="312.0" stroke="#F23645" stroke-width="1"/>
<rect x="826.90" y="293.8" width="4" height="8.8" fill="#F23645"/>
<line x1="833.80" y1="285.1" x2="833.80" y2="303.8" stroke="#089981" stroke-width="1"/>
<rect x="831.80" y="296.1" width="4" height="7.3" fill="#089981"/>
<rect x="832.80" y="297.1" width="2" height="5.3" fill="#2962FF"/>
<line x1="838.70" y1="275.1" x2="838.70" y2="298.2" stroke="#089981" stroke-width="1"/>
<rect x="836.70" y="280.0" width="4" height="14.8" fill="#089981"/>
<rect x="837.70" y="281.0" width="2" height="12.8" fill="#2962FF"/>
<line x1="843.60" y1="264.5" x2="843.60" y2="283.1" stroke="#089981" stroke-width="1"/>
<rect x="841.60" y="266.3" width="4" height="14.0" fill="#089981"/>
<rect x="842.60" y="267.3" width="2" height="12.0" fill="#2962FF"/>
<line x1="848.50" y1="261.0" x2="848.50" y2="275.5" stroke="#089981" stroke-width="1"/>
<rect x="846.50" y="261.7" width="4" height="3.7" fill="#089981"/>
<rect x="847.50" y="262.7" width="2" height="1.7" fill="#2962FF"/>
<line x1="853.40" y1="258.0" x2="853.40" y2="271.3" stroke="#F23645" stroke-width="1"/>
<rect x="851.40" y="262.1" width="4" height="5.1" fill="#F23645"/>
<line x1="858.30" y1="264.5" x2="858.30" y2="277.5" stroke="#089981" stroke-width="1"/>
<rect x="856.30" y="267.9" width="4" height="1.0" fill="#089981"/>
<line x1="863.20" y1="262.1" x2="863.20" y2="305.2" stroke="#F23645" stroke-width="1"/>
<rect x="861.20" y="265.4" width="4" height="39.4" fill="#F23645"/>
<line x1="868.10" y1="302.6" x2="868.10" y2="321.1" stroke="#F23645" stroke-width="1"/>
<rect x="866.10" y="304.8" width="4" height="10.2" fill="#F23645"/>
<line x1="873.00" y1="308.8" x2="873.00" y2="348.4" stroke="#F23645" stroke-width="1"/>
<rect x="871.00" y="314.6" width="4" height="33.5" fill="#F23645"/>
<line x1="877.90" y1="335.0" x2="877.90" y2="348.1" stroke="#089981" stroke-width="1"/>
<rect x="875.90" y="346.3" width="4" height="1.1" fill="#089981"/>
<line x1="882.80" y1="303.3" x2="882.80" y2="351.3" stroke="#089981" stroke-width="1"/>
<rect x="880.80" y="305.0" width="4" height="40.3" fill="#089981"/>
<rect x="881.80" y="306.0" width="2" height="38.3" fill="#2962FF"/>
<line x1="887.70" y1="303.0" x2="887.70" y2="313.7" stroke="#F23645" stroke-width="1"/>
<rect x="885.70" y="304.0" width="4" height="4.6" fill="#F23645"/>
<line x1="892.60" y1="305.8" x2="892.60" y2="318.5" stroke="#089981" stroke-width="1"/>
<rect x="890.60" y="308.6" width="4" height="1.0" fill="#089981"/>
<line x1="897.50" y1="286.5" x2="897.50" y2="310.2" stroke="#089981" stroke-width="1"/>
<rect x="895.50" y="288.2" width="4" height="19.5" fill="#089981"/>
<rect x="896.50" y="289.2" width="2" height="17.5" fill="#2962FF"/>
<line x1="902.40" y1="279.2" x2="902.40" y2="299.5" stroke="#089981" stroke-width="1"/>
<rect x="900.40" y="287.1" width="4" height="1.1" fill="#089981"/>
<line x1="907.30" y1="283.8" x2="907.30" y2="295.1" stroke="#F23645" stroke-width="1"/>
<rect x="905.30" y="287.1" width="4" height="5.5" fill="#F23645"/>
<line x1="912.20" y1="284.3" x2="912.20" y2="304.0" stroke="#F23645" stroke-width="1"/>
<rect x="910.20" y="290.9" width="4" height="8.0" fill="#F23645"/>
<line x1="917.10" y1="279.6" x2="917.10" y2="301.7" stroke="#089981" stroke-width="1"/>
<rect x="915.10" y="285.4" width="4" height="13.1" fill="#089981"/>
<rect x="916.10" y="286.4" width="2" height="11.1" fill="#2962FF"/>
<line x1="922.00" y1="271.6" x2="922.00" y2="285.4" stroke="#089981" stroke-width="1"/>
<rect x="920.00" y="277.4" width="4" height="5.9" fill="#089981"/>
<rect x="921.00" y="278.4" width="2" height="3.9" fill="#2962FF"/>
<line x1="926.90" y1="275.1" x2="926.90" y2="294.4" stroke="#F23645" stroke-width="1"/>
<rect x="924.90" y="277.4" width="4" height="13.8" fill="#F23645"/>
<line x1="931.80" y1="275.5" x2="931.80" y2="290.9" stroke="#089981" stroke-width="1"/>
<rect x="929.80" y="277.5" width="4" height="13.0" fill="#089981"/>
<rect x="930.80" y="278.5" width="2" height="11.0" fill="#2962FF"/>
<line x1="936.70" y1="274.7" x2="936.70" y2="288.3" stroke="#F23645" stroke-width="1"/>
<rect x="934.70" y="275.3" width="4" height="12.6" fill="#F23645"/>
<line x1="941.60" y1="280.8" x2="941.60" y2="292.7" stroke="#F23645" stroke-width="1"/>
<rect x="939.60" y="287.9" width="4" height="3.7" fill="#F23645"/>
<line x1="946.50" y1="284.6" x2="946.50" y2="296.7" stroke="#089981" stroke-width="1"/>
<rect x="944.50" y="290.1" width="4" height="1.0" fill="#089981"/>
<line x1="951.40" y1="287.6" x2="951.40" y2="301.5" stroke="#F23645" stroke-width="1"/>
<rect x="949.40" y="290.1" width="4" height="11.1" fill="#F23645"/>
<line x1="956.30" y1="268.4" x2="956.30" y2="305.9" stroke="#089981" stroke-width="1"/>
<rect x="954.30" y="274.2" width="4" height="26.2" fill="#089981"/>
<rect x="955.30" y="275.2" width="2" height="24.2" fill="#2962FF"/>
<line x1="961.20" y1="272.5" x2="961.20" y2="301.2" stroke="#F23645" stroke-width="1"/>
<rect x="959.20" y="273.1" width="4" height="24.4" fill="#F23645"/>
<line x1="966.10" y1="287.2" x2="966.10" y2="301.2" stroke="#089981" stroke-width="1"/>
<rect x="964.10" y="292.3" width="4" height="5.6" fill="#089981"/>
<rect x="965.10" y="293.3" width="2" height="3.6" fill="#2962FF"/>
<line x1="971.00" y1="290.9" x2="971.00" y2="308.1" stroke="#F23645" stroke-width="1"/>
<rect x="969.00" y="291.2" width="4" height="2.2" fill="#F23645"/>
<line x1="975.90" y1="279.1" x2="975.90" y2="295.1" stroke="#089981" stroke-width="1"/>
<rect x="973.90" y="283.0" width="4" height="10.8" fill="#089981"/>
<rect x="974.90" y="284.0" width="2" height="8.8" fill="#2962FF"/>
<line x1="980.80" y1="276.9" x2="980.80" y2="289.6" stroke="#089981" stroke-width="1"/>
<rect x="978.80" y="281.9" width="4" height="1.0" fill="#089981"/>
<line x1="985.70" y1="270.0" x2="985.70" y2="281.0" stroke="#089981" stroke-width="1"/>
<rect x="983.70" y="275.8" width="4" height="3.9" fill="#089981"/>
<rect x="984.70" y="276.8" width="2" height="1.9" fill="#2962FF"/>
<line x1="990.60" y1="274.7" x2="990.60" y2="298.6" stroke="#F23645" stroke-width="1"/>
<rect x="988.60" y="275.8" width="4" height="16.0" fill="#F23645"/>
<line x1="995.50" y1="283.0" x2="995.50" y2="300.1" stroke="#089981" stroke-width="1"/>
<rect x="993.50" y="287.9" width="4" height="4.8" fill="#089981"/>
<rect x="994.50" y="288.9" width="2" height="2.8" fill="#2962FF"/>
<line x1="1000.40" y1="286.3" x2="1000.40" y2="295.1" stroke="#F23645" stroke-width="1"/>
<rect x="998.40" y="287.6" width="4" height="2.9" fill="#F23645"/>
<line x1="1005.30" y1="264.6" x2="1005.30" y2="290.7" stroke="#089981" stroke-width="1"/>
<rect x="1003.30" y="274.9" width="4" height="15.4" fill="#089981"/>
<rect x="1004.30" y="275.9" width="2" height="13.4" fill="#2962FF"/>
<line x1="1010.20" y1="263.2" x2="1010.20" y2="277.5" stroke="#089981" stroke-width="1"/>
<rect x="1008.20" y="263.9" width="4" height="11.4" fill="#089981"/>
<rect x="1009.20" y="264.9" width="2" height="9.4" fill="#2962FF"/>
<line x1="1015.10" y1="259.9" x2="1015.10" y2="277.5" stroke="#F23645" stroke-width="1"/>
<rect x="1013.10" y="264.1" width="4" height="11.2" fill="#F23645"/>
<line x1="1020.00" y1="271.6" x2="1020.00" y2="282.6" stroke="#F23645" stroke-width="1"/>
<rect x="1018.00" y="276.2" width="4" height="4.2" fill="#F23645"/>
<line x1="1024.90" y1="267.9" x2="1024.90" y2="287.4" stroke="#089981" stroke-width="1"/>
<rect x="1022.90" y="270.5" width="4" height="9.0" fill="#089981"/>
<rect x="1023.90" y="271.5" width="2" height="7.0" fill="#2962FF"/>
<line x1="1029.80" y1="267.6" x2="1029.80" y2="277.9" stroke="#089981" stroke-width="1"/>
<rect x="1027.80" y="270.1" width="4" height="1.0" fill="#089981"/>
<line x1="1034.70" y1="261.0" x2="1034.70" y2="274.9" stroke="#089981" stroke-width="1"/>
<rect x="1032.70" y="265.0" width="4" height="5.9" fill="#089981"/>
<rect x="1033.70" y="266.0" width="2" height="3.9" fill="#2962FF"/>
<line x1="1039.60" y1="236.7" x2="1039.60" y2="264.6" stroke="#089981" stroke-width="1"/>
<rect x="1037.60" y="239.3" width="4" height="24.6" fill="#089981"/>
<rect x="1038.60" y="240.3" width="2" height="22.6" fill="#2962FF"/>
<line x1="1044.50" y1="227.2" x2="1044.50" y2="252.5" stroke="#F23645" stroke-width="1"/>
<rect x="1042.50" y="240.9" width="4" height="11.1" fill="#F23645"/>
<line x1="1049.40" y1="243.7" x2="1049.40" y2="266.8" stroke="#F23645" stroke-width="1"/>
<rect x="1047.40" y="252.2" width="4" height="5.8" fill="#F23645"/>
<line x1="1054.30" y1="256.9" x2="1054.30" y2="271.6" stroke="#F23645" stroke-width="1"/>
<rect x="1052.30" y="257.7" width="4" height="9.9" fill="#F23645"/>
<line x1="1059.20" y1="254.2" x2="1059.20" y2="271.8" stroke="#089981" stroke-width="1"/>
<rect x="1057.20" y="254.7" width="4" height="14.7" fill="#089981"/>
<rect x="1058.20" y="255.7" width="2" height="12.7" fill="#2962FF"/>
<line x1="1064.10" y1="251.1" x2="1064.10" y2="259.7" stroke="#089981" stroke-width="1"/>
<rect x="1062.10" y="251.7" width="4" height="3.8" fill="#089981"/>
<rect x="1063.10" y="252.7" width="2" height="1.8" fill="#2962FF"/>
<line x1="1069.00" y1="250.9" x2="1069.00" y2="271.6" stroke="#F23645" stroke-width="1"/>
<rect x="1067.00" y="251.7" width="4" height="17.9" fill="#F23645"/>
<line x1="1073.90" y1="266.1" x2="1073.90" y2="290.5" stroke="#F23645" stroke-width="1"/>
<rect x="1071.90" y="269.0" width="4" height="17.7" fill="#F23645"/>
<line x1="1078.80" y1="277.3" x2="1078.80" y2="288.1" stroke="#089981" stroke-width="1"/>
<rect x="1076.80" y="278.2" width="4" height="9.6" fill="#089981"/>
<rect x="1077.80" y="279.2" width="2" height="7.6" fill="#2962FF"/>
<line x1="1083.70" y1="265.8" x2="1083.70" y2="277.9" stroke="#089981" stroke-width="1"/>
<rect x="1081.70" y="272.4" width="4" height="5.2" fill="#089981"/>
<rect x="1082.70" y="273.4" width="2" height="3.2" fill="#2962FF"/>
<line x1="1088.60" y1="264.1" x2="1088.60" y2="275.7" stroke="#089981" stroke-width="1"/>
<rect x="1086.60" y="270.9" width="4" height="1.1" fill="#089981"/>
<line x1="1093.50" y1="260.2" x2="1093.50" y2="275.7" stroke="#F23645" stroke-width="1"/>
<rect x="1091.50" y="270.2" width="4" height="1.1" fill="#F23645"/>
<line x1="1098.40" y1="264.7" x2="1098.40" y2="281.7" stroke="#F23645" stroke-width="1"/>
<rect x="1096.40" y="271.6" width="4" height="3.5" fill="#F23645"/>
<line x1="1103.30" y1="265.2" x2="1103.30" y2="275.2" stroke="#089981" stroke-width="1"/>
<rect x="1101.30" y="268.5" width="4" height="6.4" fill="#089981"/>
<rect x="1102.30" y="269.5" width="2" height="4.4" fill="#2962FF"/>
<line x1="1108.20" y1="270.9" x2="1108.20" y2="289.6" stroke="#F23645" stroke-width="1"/>
<rect x="1106.20" y="271.9" width="4" height="3.1" fill="#F23645"/></g>
<line x1="519.9" y1="307.4" x2="1220.8" y2="194.5" stroke="#131722" stroke-width="1"/>
<line x1="594" y1="428.2" x2="1245.7" y2="244.2" stroke="#131722" stroke-width="1"/>
<text x="1180.7" y="99.9" fill="#F7525F" text-anchor="middle" class="mm">+2/8 Extreme Overshoot --  1.24512</text>
<text x="1180.7" y="128.7" fill="#F7525F" text-anchor="middle" class="mm">+1/8 Overshoot --  1.23291</text>
<text x="1180.7" y="157.4" fill="#26B5D9" text-anchor="middle" class="mm">8/8 Ultimate resistance --  1.2207</text>
<text x="1180.7" y="186.2" fill="#FF9800" text-anchor="middle" class="mm">7/8 Weak, Stop &amp; Reverse --  1.2085</text>
<text x="1180.7" y="215.0" fill="#E040FB" text-anchor="middle" class="mm">6/8 Strong pivot reverse --  1.19629</text>
<text x="1180.7" y="243.8" fill="#4CAF50" text-anchor="middle" class="mm">5/8 Top of trading range --  1.18408</text>
<text x="1180.7" y="272.5" fill="#26B5D9" text-anchor="middle" class="mm">4/8 Major S/R pivot point --  1.17188</text>
<text x="1180.7" y="301.3" fill="#4CAF50" text-anchor="middle" class="mm">3/8 Bottom of trading range --  1.15967</text>
<text x="1180.7" y="330.1" fill="#E040FB" text-anchor="middle" class="mm">2/8 Strong, Pivot, reverse --  1.14746</text>
<text x="1180.7" y="358.8" fill="#FF9800" text-anchor="middle" class="mm">1/8 Weak, Stop &amp; Reverse --  1.13525</text>
<text x="1180.7" y="387.6" fill="#26B5D9" text-anchor="middle" class="mm">0/8 Ultimate Support--  1.12305</text>
<text x="1180.7" y="416.4" fill="#4CAF50" text-anchor="middle" class="mm">-1/8 Oversold--  1.11084</text>
<text x="1180.7" y="445.1" fill="#4CAF50" text-anchor="middle" class="mm">-2/8 Extreme Oversold--  1.09863</text>
<text x="1352.5" y="70.9" text-anchor="end" class="ax">1.26000</text>
<text x="1352.5" y="118.1" text-anchor="end" class="ax">1.24000</text>
<text x="1352.5" y="165.2" text-anchor="end" class="ax">1.22000</text>
<text x="1352.5" y="212.3" text-anchor="end" class="ax">1.20000</text>
<text x="1352.5" y="259.5" text-anchor="end" class="ax">1.18000</text>
<text x="1352.5" y="306.6" text-anchor="end" class="ax">1.16000</text>
<text x="1352.5" y="353.8" text-anchor="end" class="ax">1.14000</text>
<text x="1352.5" y="401.0" text-anchor="end" class="ax">1.12000</text>
<text x="1352.5" y="448.1" text-anchor="end" class="ax">1.10000</text>
<text x="1352.5" y="495.2" text-anchor="end" class="ax">1.08000</text>
<text x="1352.5" y="542.4" text-anchor="end" class="ax">1.06000</text>
<text x="1352.5" y="589.5" text-anchor="end" class="ax">1.04000</text>
<text x="1352.5" y="636.7" text-anchor="end" class="ax">1.02000</text>
<text x="1352.5" y="683.8" text-anchor="end" class="ax">1.00000</text>
<text x="40.2" y="710.9" text-anchor="middle" class="mo">Dec</text>
<text x="143" y="710.9" text-anchor="middle" class="ax bold">2025</text>
<text x="250.7" y="710.9" text-anchor="middle" class="mo">Feb</text>
<text x="348.7" y="710.9" text-anchor="middle" class="mo">Mar</text>
<text x="451.6" y="710.9" text-anchor="middle" class="mo">Apr</text>
<text x="559.4" y="710.9" text-anchor="middle" class="mo">May</text>
<text x="667.2" y="710.9" text-anchor="middle" class="mo">Jun</text>
<text x="770.1" y="710.9" text-anchor="middle" class="mo">Jul</text>
<text x="882.8" y="710.9" text-anchor="middle" class="mo">Aug</text>
<text x="985.7" y="710.9" text-anchor="middle" class="mo">Sep</text>
<text x="1093.5" y="710.9" text-anchor="middle" class="mo">Oct</text>
<text x="1206.2" y="710.9" text-anchor="middle" class="mo">Nov</text>
<defs><clipPath id="fc"><circle cx="18.6" cy="13.4" r="4.4"/></clipPath></defs>
<g clip-path="url(#fc)">
<rect x="14" y="8.9" width="9.2" height="9" fill="#F6F7FA"/>
<rect x="14" y="9.2" width="9.2" height="1.6" fill="#EF3F4E"/>
<rect x="14" y="12.3" width="9.2" height="1.6" fill="#EF3F4E"/>
<rect x="14" y="15.4" width="9.2" height="1.6" fill="#EF3F4E"/>
<rect x="14" y="8.9" width="4.8" height="4.9" fill="#3E8EEB"/>
</g>
<circle cx="13.7" cy="18.4" r="5.4" fill="#fff"/>
<circle cx="13.7" cy="18.4" r="4.7" fill="#1F5FC2"/>
<circle cx="16.50" cy="18.40" r="0.6" fill="#CFC05A"/>
<circle cx="15.68" cy="20.38" r="0.6" fill="#CFC05A"/>
<circle cx="13.70" cy="21.20" r="0.6" fill="#CFC05A"/>
<circle cx="11.72" cy="20.38" r="0.6" fill="#CFC05A"/>
<circle cx="10.90" cy="18.40" r="0.6" fill="#CFC05A"/>
<circle cx="11.72" cy="16.42" r="0.6" fill="#CFC05A"/>
<circle cx="13.70" cy="15.60" r="0.6" fill="#CFC05A"/>
<circle cx="15.68" cy="16.42" r="0.6" fill="#CFC05A"/>
<g>
</g>
<text x="26" y="21.2" class="title">Euro / U.S. Dollar · 1D · OANDA</text>
<circle cx="210" cy="15.7" r="7" fill="#DDF0EC"/>
<circle cx="210" cy="15.7" r="3.2" fill="#089981"/>
<text x="224" y="19.8" class="ohl">O</text><text x="232.7" y="19.8" class="ohv">1.17266</text>
<text x="276.7" y="19.8" class="ohl">H</text><text x="285.4" y="19.8" class="ohv">1.17309</text>
<text x="330" y="19.8" class="ohl">L</text><text x="337.7" y="19.8" class="ohv">1.16518</text>
<text x="381.6" y="19.8" class="ohl">C</text><text x="390" y="19.8" class="ohv">1.17134</text>
<text x="434.5" y="19.8" class="ohl">Vol</text><text x="450.7" y="19.8" class="ohv">173.59K</text>
<text x="9" y="38.6" class="lg">EMA 100 close</text>
<text x="86.3" y="38.6" class="lg" style="fill:#4F7DF9">1.15725</text>
<text x="9" y="56.8" class="lg">Murrey Math Lines 64 1.5 none</text>
<text x="9" y="75.4" class="lg" word-spacing="0.35">Ichimoku 9 26 52 26</text>
<circle cx="119.9" cy="71.5" r="6.7" fill="#EFE7FF"/>
<path d="M116.13 70.10 A3.8 3.8 0 0 1 123.44 70.74" fill="none" stroke="#7434F5" stroke-width="1.1"/>
<path d="M123.27 72.70 A3.8 3.8 0 0 1 115.96 72.06" fill="none" stroke="#7434F5" stroke-width="1.1"/>
<path d="M122.0 70.0 L125.1 70.0 L123.5 72.2 Z" fill="#7434F5"/>
<path d="M114.4 72.8 L117.5 72.8 L115.9 70.6 Z" fill="#7434F5"/>
<rect x="9" y="83.9" width="21" height="14.5" rx="2" fill="#fff" stroke="#E0E3EB" stroke-width="1"/>
<path d="M16.6 92.6 L19.5 89.7 L22.4 92.6" fill="none" stroke="#131722" stroke-width="1.3"/>
<rect x="1299.9" y="7.6" width="58.2" height="18.6" rx="3" fill="#fff" stroke="#E6E8EE" stroke-width="1"/>
<text x="1302.6" y="20.9" class="usd">USD</text>
<path d="M1351.3 16 L1353.4 18 L1355.5 16" fill="none" stroke="#131722" stroke-width="1"/>
<path d="M11.7 671 H20.8 V682.6 H16.2 V675.2 H11.7 Z" fill="#131722"/>
<circle cx="24.6" cy="673.2" r="2.2" fill="#131722"/>
<path d="M29.3 671 H34.4 L30.1 682.5 H25 Z" fill="#131722"/>
<path d="M1326.8 702.6 H1332.2 L1334.6 707.3 L1332.2 712 H1326.8 L1324.4 707.3 Z" fill="none" stroke="#3A3E48" stroke-width="1"/>
<circle cx="1329.5" cy="707.3" r="1.7" fill="none" stroke="#3A3E48" stroke-width="0.9"/>
</svg>
</body></html>
